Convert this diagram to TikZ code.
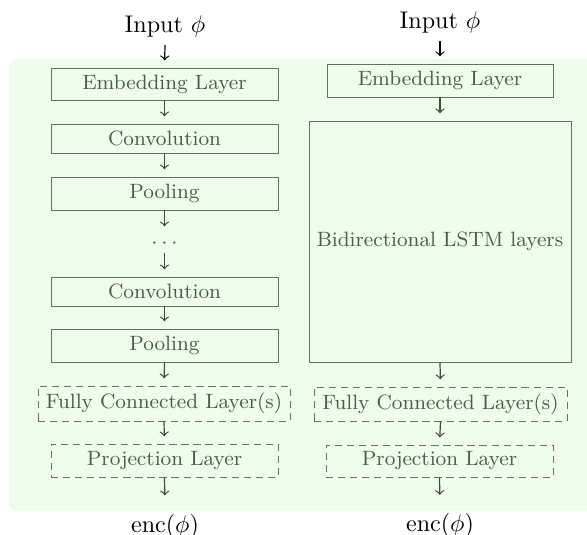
\documentclass[tikz,border=0pt]{standalone}
\definecolor{bgc}{RGB}{238,253,238}
\definecolor{txc}{RGB}{76,92,76}
\definecolor{lnc}{RGB}{100,114,100}
\definecolor{arc}{RGB}{60,76,60}
\def\pxu{0.415pt}
\begin{document}
\begin{tikzpicture}[x=0.415pt,y=-0.415pt,
  box/.style={draw=lnc, line width=0.4pt, rectangle, inner sep=0pt, text=txc,
              font=\fontsize{8.6pt}{10pt}\selectfont},
  dbox/.style={box, dash pattern=on 3pt off 2pt},
  arr/.style={->, draw=arc, line width=0.5pt, shorten >=3pt},
  inarr/.style={->, draw=black, line width=0.5pt, shorten >=3pt},
  io/.style={inner sep=3.33pt, font=\normalsize}
]
\useasboundingbox (0,0) rectangle (587,534);
\begin{scope}
  \clip (0,0) rectangle (587,534);
  \fill[bgc, rounded corners=3.3pt] (9,59) rectangle (620,511);
\end{scope}

% left column
\node[io, anchor=base] (inL) at (165,32) {Input $\phi$};
\node[box, minimum width=227*\pxu, minimum height=32*\pxu] (embL) at (164.5,84) {Embedding Layer};
\node[box, minimum width=227*\pxu, minimum height=29*\pxu] (conv1) at (164.5,138.5) {Convolution};
\node[box, minimum width=227*\pxu, minimum height=33*\pxu] (pool1) at (164.5,193.5) {Pooling};
\node[inner sep=0pt, minimum height=19*\pxu, text=txc, font=\fontsize{8.6pt}{10pt}\selectfont] (dots) at (164.5,243.5) {$\cdots$};
\node[box, minimum width=227*\pxu, minimum height=29*\pxu] (conv2) at (164.5,291.5) {Convolution};
\node[box, minimum width=227*\pxu, minimum height=33*\pxu] (pool2) at (164.5,345.5) {Pooling};
\node[dbox, minimum width=252*\pxu, minimum height=35*\pxu] (fcL) at (164,403.5) {Fully Connected Layer(s)};
\node[dbox, minimum width=227*\pxu, minimum height=33*\pxu] (projL) at (164.5,460.5) {Projection Layer};
\node[io, anchor=north] (encL) at (165,506) {enc($\phi$)};

\draw[inarr] (inL.south) -- (embL.north);
\draw[arr] (embL.south) -- (conv1.north);
\draw[arr] (conv1.south) -- (pool1.north);
\draw[arr] (pool1.south) -- (dots.north);
\draw[arr] (dots.south) -- (conv2.north);
\draw[arr] (conv2.south) -- (pool2.north);
\draw[arr] (pool2.south) -- (fcL.north);
\draw[arr] (fcL.south) -- (projL.north);
\draw[arr, shorten >=4.4pt] (projL.south) -- (encL.north);

% right column
\node[io, anchor=base] (inR) at (440,28) {Input $\phi$};
\node[box, minimum width=226*\pxu, minimum height=33*\pxu] (embR) at (440,80.5) {Embedding Layer};
\node[box, minimum width=262*\pxu, minimum height=241*\pxu] (lstm) at (440,241.5) {Bidirectional LSTM layers};
\node[dbox, minimum width=253*\pxu, minimum height=34*\pxu] (fcR) at (440.5,404) {Fully Connected Layer(s)};
\node[dbox, minimum width=227*\pxu, minimum height=32*\pxu] (projR) at (439.5,461) {Projection Layer};
\node[io, anchor=north] (encR) at (440,505) {enc($\phi$)};

\draw[inarr] (inR.south) -- (embR.north);
\draw[arr] (embR.south) -- (lstm.north);
\draw[arr] (lstm.south) -- (fcR.north);
\draw[arr] (fcR.south) -- (projR.north);
\draw[arr, shorten >=4.2pt] (projR.south) -- (encR.north);
\end{tikzpicture}
\end{document}
